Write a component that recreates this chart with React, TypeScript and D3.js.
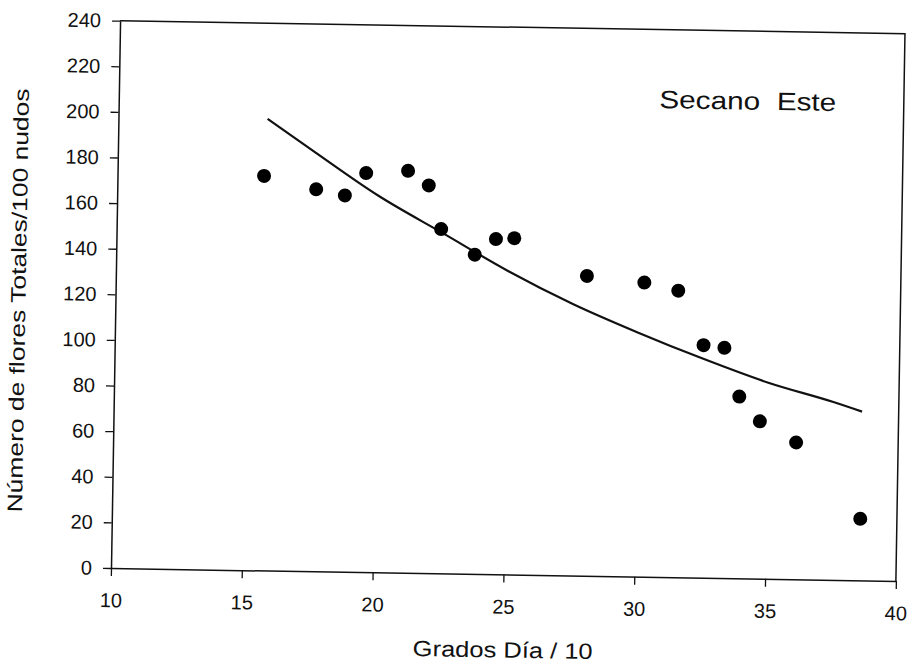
import React, { useEffect, useRef } from "react";
import * as d3 from "d3";

// scatter points
const gradosDia = [15.6, 17.6, 18.7, 19.5, 21.1, 21.9, 22.4, 23.7, 24.5, 25.2, 28.0, 30.2, 31.5, 32.5, 33.3, 33.9, 34.7, 36.1, 38.6];
const floresTotales = [173, 167.5, 165, 175, 176.3, 170, 151, 140, 147, 147.5, 131.5, 129, 125.7, 102, 101, 79.7, 69, 60, 27];

// fitted curve
const curveX = [15.7, 17.5, 20, 22.5, 25, 27.5, 30, 32.5, 35, 37.5, 38.6];
const curveY = [198, 184, 165, 149, 133, 119, 107, 96, 86, 78, 74];

const xTicks = [10, 15, 20, 25, 30, 35, 40];
const yTicks = [0, 20, 40, 60, 80, 100, 120, 140, 160, 180, 200, 220, 240];

const FONT = "'Liberation Sans', Arial, Helvetica, sans-serif";

const App = () => {
	const svgRef = useRef<SVGSVGElement | null>(null);

	useEffect(() => {
		const svg = d3.select(svgRef.current);
		svg.selectAll("*").remove();

		const width = 912;
		const height = 667;
		const left = 111;
		const bottom = 568;
		const right = 896;
		const top = 20.6;

		svg.attr("width", width).attr("height", height);
		svg.append("rect").attr("width", width).attr("height", height).attr("fill", "#fff");

		// the scanned page is turned slightly clockwise
		const g = svg.append("g").attr("transform", `rotate(0.95, ${left}, ${bottom})`);

		const x = d3.scaleLinear().domain([10, 40]).range([left, right]);
		const y = d3.scaleLinear().domain([0, 240]).range([bottom, top]);

		// frame
		g.append("path")
			.attr("d", `M${left},${top}H${right}V${bottom}`)
			.attr("fill", "none")
			.attr("stroke", "#111")
			.attr("stroke-width", 1.5);

		const xAxis = g
			.append("g")
			.attr("transform", `translate(0,${bottom})`)
			.call(d3.axisBottom(x).tickValues(xTicks).tickSize(8).tickSizeOuter(0).tickPadding(17));

		const yAxis = g
			.append("g")
			.attr("transform", `translate(${left},0)`)
			.call(d3.axisLeft(y).tickValues(yTicks).tickSize(8).tickSizeOuter(0).tickPadding(11));

		[xAxis, yAxis].forEach((ax) => {
			ax.select(".domain").attr("stroke", "#111").attr("stroke-width", 1.5);
			ax.selectAll(".tick line").attr("stroke", "#111").attr("stroke-width", 1.3);
			ax.selectAll(".tick text")
				.attr("fill", "#111")
				.style("font-family", FONT)
				.style("font-size", "20px");
		});

		// fitted curve
		const line = d3
			.line<number>()
			.x((d) => x(d))
			.y((d, i) => y(curveY[i]))
			.curve(d3.curveMonotoneX);

		g.append("path")
			.datum(curveX)
			.attr("d", line)
			.attr("fill", "none")
			.attr("stroke", "#111")
			.attr("stroke-width", 2.2);

		// points
		g.selectAll(".pt")
			.data(gradosDia)
			.enter()
			.append("circle")
			.attr("class", "pt")
			.attr("cx", (d) => x(d))
			.attr("cy", (d, i) => y(floresTotales[i]))
			.attr("r", 7)
			.attr("fill", "#000");

		// titles
		g.append("text")
			.attr("x", 504)
			.attr("y", 651)
			.attr("text-anchor", "middle")
			.attr("textLength", 180)
			.attr("lengthAdjust", "spacingAndGlyphs")
			.style("font-family", FONT)
			.style("font-size", "22px")
			.attr("fill", "#111")
			.text("Grados Día / 10");

		g.append("text")
			.attr("transform", "translate(21,302) rotate(-90)")
			.attr("text-anchor", "middle")
			.attr("textLength", 424)
			.attr("lengthAdjust", "spacingAndGlyphs")
			.style("font-family", FONT)
			.style("font-size", "21px")
			.attr("fill", "#111")
			.text("Número de flores Totales/100 nudos");

		g.append("text")
			.attr("x", 740)
			.attr("y", 99)
			.attr("text-anchor", "middle")
			.attr("textLength", 177)
			.attr("lengthAdjust", "spacingAndGlyphs")
			.style("font-family", FONT)
			.style("font-size", "25px")
			.style("white-space", "pre")
			.attr("fill", "#111")
			.text("Secano  Este");
	}, []);

	return (
		<div style={{ position: "absolute", left: 0, top: 0 }}>
			<svg ref={svgRef} style={{ display: "block" }}></svg>
		</div>
	);
};

export default App;
